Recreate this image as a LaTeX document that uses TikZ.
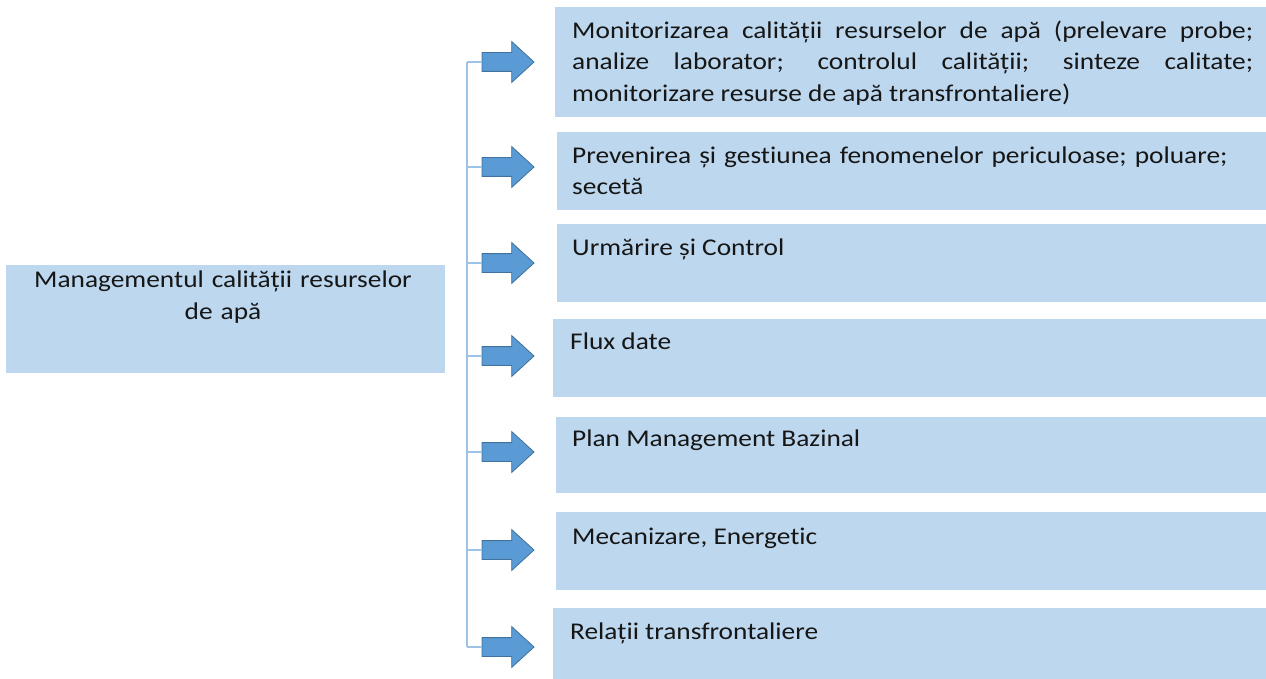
\documentclass[tikz,border=0pt]{standalone}
\usepackage{fontspec}
\setmainfont{Carlito}[FakeStretch=1.14, Ligatures=NoCommon]
\usetikzlibrary{shapes.arrows}
\definecolor{boxfill}{HTML}{BDD7EE}
\definecolor{arrfill}{HTML}{5B9BD5}
\definecolor{arrdraw}{HTML}{41719C}
\definecolor{linec}{HTML}{9DC3E6}
\definecolor{txtc}{HTML}{161616}
\begin{document}
\begin{tikzpicture}[x=1pt,y=-1pt,
  box/.style={rectangle, fill=boxfill, draw=none, inner sep=0pt, outer sep=0pt, anchor=north west},
  arr/.style={single arrow, draw=arrdraw, fill=arrfill, line width=0.8pt,
    minimum height=52pt, single arrow head extend=11pt,
    single arrow head indent=0pt, single arrow tip angle=85,
    inner xsep=0pt, inner ysep=9pt, outer sep=0pt, anchor=tail},
  conn/.style={draw=linec, line width=1.6pt},
  txt/.style={text=txtc, inner sep=0pt, font=\fontsize{24pt}{31.5pt}\selectfont, anchor=base west},
]
\useasboundingbox (0,0) rectangle (1266,679);

% left box
\node[box, minimum width=439pt, minimum height=108pt] (root) at (6,265) {};
\node[txt, anchor=base, text width=430pt, align=center] (roottxt) at (223,287.7)
  {Managementul calității resurselor\\de apă};

% right boxes
\node[box, minimum width=711pt, minimum height=110pt] (b1) at (555,7) {};
\node[box, minimum width=709pt, minimum height=78pt] (b2) at (557,132) {};
\node[box, minimum width=709pt, minimum height=78pt] (b3) at (557,224) {};
\node[box, minimum width=713pt, minimum height=78pt] (b4) at (553,319) {};
\node[box, minimum width=710pt, minimum height=76pt] (b5) at (556,417) {};
\node[box, minimum width=710pt, minimum height=78pt] (b6) at (556,512) {};
\node[box, minimum width=713pt, minimum height=71pt] (b7) at (553,608) {};

% texts
\node[txt, text width=681pt, align=justify] (t1) at (572,38.5)
  {Monitorizarea calității resurselor de apă (prelevare probe;\linebreak
   analize laborator; controlul calității; sinteze calitate;\linebreak
   monitorizare resurse de apă transfrontaliere)};
\node[txt, text width=681pt, align=left] (t2) at (572,163.5)
  {Prevenirea și gestiunea fenomenelor periculoase; poluare;\\secetă};
\node[txt] (t3) at (572,255.7) {Urmărire și Control};
\node[txt] (t4) at (570,349.3) {Flux date};
\node[txt] (t5) at (572,446.7) {Plan Management Bazinal};
\node[txt] (t6) at (572,544) {Mecanizare, Energetic};
\node[txt] (t7) at (570,639.3) {Relații transfrontaliere};

% arrows
\node[arr] (a1) at (482,62) {};
\node[arr] (a2) at (482,167) {};
\node[arr] (a3) at (482,263) {};
\node[arr] (a4) at (482,356) {};
\node[arr] (a5) at (482,452) {};
\node[arr] (a6) at (482,550) {};
\node[arr] (a7) at (482,647) {};

% connector tree
\coordinate (c1) at (467,62);
\coordinate (c2) at (467,167);
\coordinate (c3) at (467,263);
\coordinate (c4) at (467,356);
\coordinate (c5) at (467,452);
\coordinate (c6) at (467,550);
\coordinate (c7) at (467,647);
\draw[conn] (c1) -- (c7);
\foreach \i in {1,...,7} { \draw[conn] (c\i) -- (a\i.tail); }
\end{tikzpicture}
\end{document}
